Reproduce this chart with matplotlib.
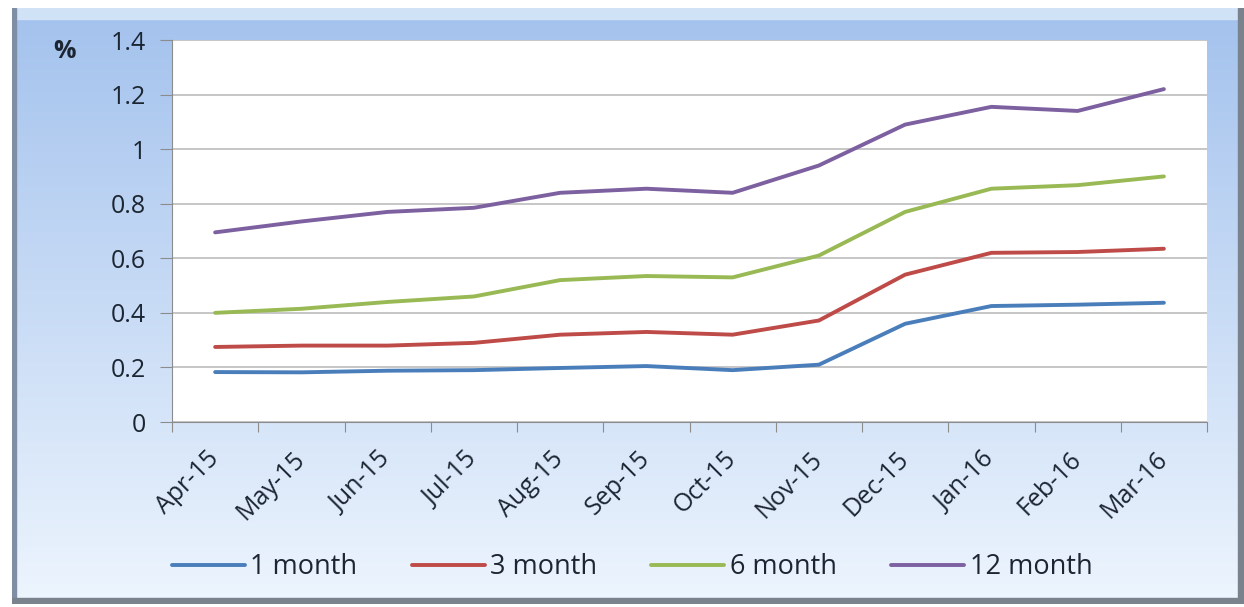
import numpy as np
import matplotlib
matplotlib.use("Agg")
import matplotlib.pyplot as plt
from matplotlib.patches import Rectangle

months = ["Apr-15", "May-15", "Jun-15", "Jul-15", "Aug-15", "Sep-15",
          "Oct-15", "Nov-15", "Dec-15", "Jan-16", "Feb-16", "Mar-16"]
one_month = [0.183, 0.182, 0.188, 0.19, 0.198, 0.205, 0.19, 0.21, 0.36, 0.425, 0.43, 0.437]
three_month = [0.275, 0.28, 0.28, 0.29, 0.32, 0.33, 0.32, 0.372, 0.54, 0.62, 0.623, 0.635]
six_month = [0.40, 0.415, 0.44, 0.46, 0.52, 0.535, 0.53, 0.61, 0.77, 0.855, 0.868, 0.90]
twelve_month = [0.695, 0.735, 0.77, 0.785, 0.84, 0.855, 0.84, 0.94, 1.09, 1.155, 1.14, 1.22]
series_names = ["1 month", "3 month", "6 month", "12 month"]
colors = ["#4a7ebb", "#be4b48", "#98b954", "#7d60a0"]
yticks = [0, 0.2, 0.4, 0.6, 0.8, 1.0, 1.2, 1.4]
ytick_labels = ["0", "0.2", "0.4", "0.6", "0.8", "1", "1.2", "1.4"]

plt.rcParams['font.family'] = ['Open Sans', 'DejaVu Sans']
TXT = "#1c2633"
W, H = 1244, 607
fig = plt.figure(figsize=(W / 100, H / 100), dpi=100)
fig.patch.set_facecolor("white")

# background frame with gradient
bg = fig.add_axes([12 / W, 1 - 604 / H, (1244 - 12) / W, (604 - 8) / H])
bg.set_axis_off()
grad = np.linspace(0, 1, 256).reshape(-1, 1)
top = np.array([0.64, 0.76, 0.93])
bot = np.array([0.93, 0.96, 0.995])
img = top[None, None, :] * (1 - grad[:, :, None]) + bot[None, None, :] * grad[:, :, None]
bg.imshow(img, aspect="auto", extent=[0, 1, 0, 1], origin="upper")
bg.set_xlim(0, 1)
bg.set_ylim(0, 1)
# bevel edges / shadows
bg.add_patch(Rectangle((0, 0.982), 1, 0.018, color="#d6e6f8", alpha=0.9, transform=bg.transAxes))
bg.add_patch(Rectangle((0, 0), 0.003, 1, color="#7f8ea4", transform=bg.transAxes))
bg.add_patch(Rectangle((0.995, 0), 0.005, 1, color="#7a828e", transform=bg.transAxes))
bg.add_patch(Rectangle((0, 0), 1, 0.01, color="#7a828e", transform=bg.transAxes))

ax = fig.add_axes([172 / W, 1 - 422 / H, (1207 - 172) / W, (422 - 40) / H])
ax.set_facecolor("white")
x = np.arange(len(months))
for vals, name, c in zip([one_month, three_month, six_month, twelve_month], series_names, colors):
    ax.plot(x, vals, color=c, lw=2.8, label=name, solid_capstyle="round")

ax.set_xlim(-0.5, len(months) - 0.5)
ax.set_ylim(0, 1.4)
ax.set_yticks(yticks)
ax.set_yticklabels(ytick_labels)
ax.grid(axis="y", color="#bcbcbc", lw=1.2)
ax.set_axisbelow(True)
for s in ["top", "right"]:
    ax.spines[s].set_visible(False)
ax.spines["left"].set_color("#8c8c8c")
ax.spines["bottom"].set_color("#8c8c8c")
ax.tick_params(axis="y", length=9, color="#8c8c8c", labelsize=18, labelcolor=TXT, pad=10)
ax.set_xticks(np.arange(-0.5, len(months), 1.0), minor=False)
ax.set_xticklabels([])
ax.tick_params(axis="x", length=7, color="#8c8c8c")
ax.set_xticks(x, minor=True)
ax.set_xticklabels(months, minor=True, rotation=45, ha="right", va="center",
                   rotation_mode="anchor", fontsize=18, color=TXT)
ax.tick_params(axis="x", which="minor", length=0, pad=24)

fig.text(65 / W, 1 - 52 / H, "%", fontsize=18, fontweight="bold", color=TXT,
         ha="center", va="center")

fig.legend(loc="center", bbox_to_anchor=(632 / W, 1 - 567 / H), ncol=4, frameon=False,
           fontsize=19.5, handlelength=2.7, handletextpad=0.2, columnspacing=2.0,
           labelcolor=TXT)

fig.savefig("out.png", dpi=100)
